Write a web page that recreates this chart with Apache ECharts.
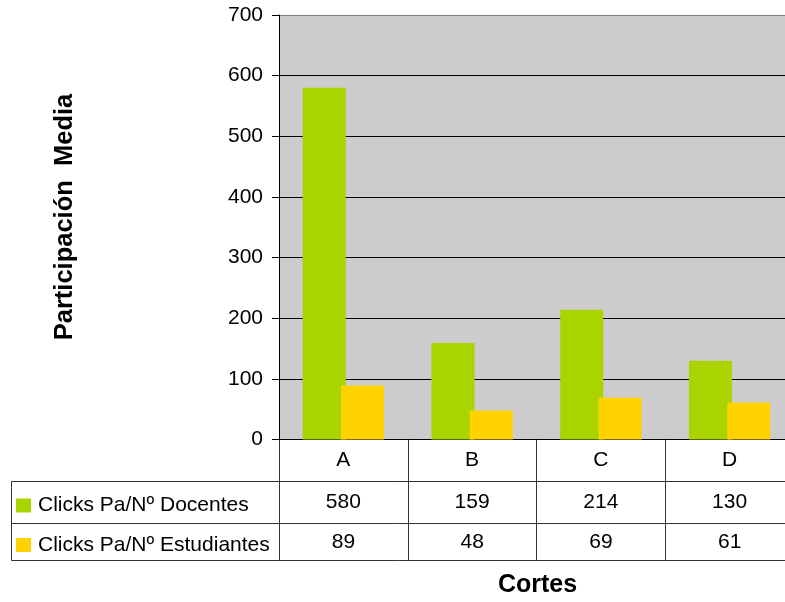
<!DOCTYPE html>
<html>
<head>
<meta charset="utf-8">
<script src="https://cdn.jsdelivr.net/npm/echarts@6/dist/echarts.min.js"></script>
<style>
  html, body { margin: 0; padding: 0; background: #ffffff; }
  #chart { width: 785px; height: 602px; }
</style>
</head>
<body>
<div id="chart"></div>
<script>
// Categories and values of the chart and its data table
const cortes = ['A', 'B', 'C', 'D'];
const docentes = [580, 159, 214, 130];
const estudiantes = [89, 48, 69, 61];
const seriesNames = ['Clicks Pa/Nº Docentes', 'Clicks Pa/Nº Estudiantes'];
const yMin = 0, yMax = 700, yStep = 100;

const FONT = '"Liberation Sans", Arial, sans-serif';
const TABLE_LINE = '#333333';

const chart = echarts.init(document.getElementById('chart'), null, { renderer: 'canvas' });

// grid lines black, top border of the plot wall grey
const splitColors = [];
for (let v = yMin; v <= yMax; v += yStep) splitColors.push(v === yMax ? '#808080' : '#000000');

const rowAxis = (offset, values) => ({
  type: 'category',
  data: cortes,
  position: 'bottom',
  offset: offset,
  gridIndex: 0,
  axisLine: { show: false },
  axisTick: { show: false },
  splitLine: { show: false },
  axisLabel: {
    interval: 0,
    margin: 21,
    verticalAlign: 'middle',
    fontFamily: FONT,
    fontSize: 21,
    color: '#000',
    formatter: (val, idx) => String(values[idx])
  }
});

chart.setOption({
  animation: false,
  backgroundColor: '#ffffff',
  textStyle: { fontFamily: FONT },
  grid: {
    left: 279, top: 15, width: 515, height: 424.5,
    show: true, backgroundColor: '#cccccc', borderWidth: 0,
    containLabel: false,
    outerBoundsMode: 'none'
  },
  legend: {
    orient: 'vertical',
    left: 16, top: 495,
    padding: 0,
    itemWidth: 15, itemHeight: 14, itemGap: 18.5,
    icon: 'rect',
    textStyle: { fontFamily: FONT, fontSize: 21, color: '#000', padding: [0, 0, 0, 2] },
    data: seriesNames
  },
  xAxis: [
    {
      type: 'category',
      data: cortes,
      position: 'bottom',
      axisLine: { show: true, lineStyle: { color: '#000', width: 1 } },
      axisTick: { show: true, length: 121.5, interval: 0, lineStyle: { color: TABLE_LINE, width: 1 } },
      splitLine: { show: false },
      axisLabel: {
        interval: 0, margin: 21, verticalAlign: 'middle',
        fontFamily: FONT, fontSize: 21, color: '#000'
      }
    },
    rowAxis(42.2, docentes),
    rowAxis(81.5, estudiantes)
  ],
  yAxis: {
    type: 'value',
    min: yMin, max: yMax, interval: yStep,
    axisLine: { show: true, lineStyle: { color: '#000', width: 1 } },
    axisTick: { show: true, length: 7, lineStyle: { color: '#000' } },
    splitLine: { show: true, lineStyle: { color: splitColors, width: 1 } },
    axisLabel: { margin: 16, fontFamily: FONT, fontSize: 21, color: '#000' }
  },
  series: [
    {
      name: seriesNames[0], type: 'bar', data: docentes,
      barWidth: 43, barGap: '-11%',
      itemStyle: { color: '#aad400' }
    },
    {
      name: seriesNames[1], type: 'bar', data: estudiantes,
      barWidth: 43, barGap: '-11%',
      itemStyle: { color: '#ffd200' }
    }
  ],
  graphic: [
    // data table frame (legend column and row separators)
    { type: 'line', shape: { x1: 11.5, y1: 481.5, x2: 785, y2: 481.5 }, style: { stroke: TABLE_LINE, lineWidth: 1 } },
    { type: 'line', shape: { x1: 11.5, y1: 523.5, x2: 785, y2: 523.5 }, style: { stroke: TABLE_LINE, lineWidth: 1 } },
    { type: 'line', shape: { x1: 11.5, y1: 560.5, x2: 785, y2: 560.5 }, style: { stroke: TABLE_LINE, lineWidth: 1 } },
    { type: 'line', shape: { x1: 11.5, y1: 481.5, x2: 11.5, y2: 560.5 }, style: { stroke: TABLE_LINE, lineWidth: 1 } },
    // axis titles
    {
      type: 'text', x: 65, y: 217, rotation: Math.PI / 2,
      style: {
        text: 'Participación  Media', fontFamily: FONT, fontSize: 25.5, fontWeight: 'bold',
        fill: '#000', align: 'center', verticalAlign: 'middle'
      }
    },
    {
      type: 'text', x: 537.5, y: 585,
      style: {
        text: 'Cortes', fontFamily: FONT, fontSize: 25, fontWeight: 'bold',
        fill: '#000', align: 'center', verticalAlign: 'middle'
      }
    }
  ]
});
</script>
</body>
</html>
